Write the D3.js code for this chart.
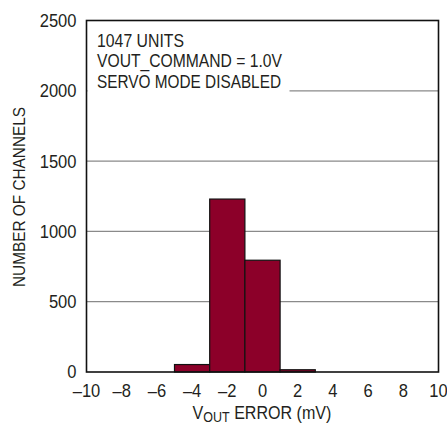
<!DOCTYPE html>
<html>
<head>
<meta charset="utf-8">
<script src="https://cdn.jsdelivr.net/npm/d3@7"></script>
<style>
  body { margin: 0; background: #fff; }
  text { font-family: "Liberation Sans Narrow", "Arial Narrow", "Liberation Sans", sans-serif; fill: #231f20; }
</style>
</head>
<body>
<div id="container"></div>
<script>
// histogram bins (mV) and counts
let binStarts = [-5, -3, -1, 1];
let binWidth = 2;
let counts = [53, 1230, 795, 16];
let xTicks = [-10, -8, -6, -4, -2, 0, 2, 4, 6, 8, 10];
let yTicks = [0, 500, 1000, 1500, 2000, 2500];
let notes = ["1047 UNITS", "VOUT_COMMAND = 1.0V", "SERVO MODE DISABLED"];
let noteWidths = [87, 185, 184];

let w = 447;
let h = 425;
let plotL = 86.5, plotR = 438.5, plotT = 20.5, plotB = 372;

let viz = d3.select("#container").append("svg")
    .attr("width", w)
    .attr("height", h)
    .style("background-color", "white");

let x = d3.scaleLinear().domain([-10, 10]).range([plotL, plotR]);
let y = d3.scaleLinear().domain([0, 2500]).range([plotB, plotT]);

// squeeze text horizontally (no condensed font installed)
function squeeze(sel, k) {
  sel.attr("transform", function() {
    let t = d3.select(this);
    let tx = +t.attr("x"), ty = +t.attr("y");
    return "translate(" + tx + "," + ty + ") scale(" + k + ",1) translate(" + (-tx) + "," + (-ty) + ")";
  });
}

// gridlines
viz.selectAll(".grid").data(yTicks.filter(d => d > 0 && d < 2500)).enter()
  .append("line")
    .attr("x1", plotL).attr("x2", plotR)
    .attr("y1", d => y(d)).attr("y2", d => y(d))
    .attr("stroke", "#8a8a8a")
    .attr("stroke-width", 1.2);

// white box behind the notes
viz.append("rect")
  .attr("x", plotL + 1).attr("y", plotT + 1)
  .attr("width", 202).attr("height", 78)
  .attr("fill", "white");

// bars
let bins = binStarts.map((s, i) => ({x0: s, x1: s + binWidth, n: counts[i]}));
viz.selectAll(".bar").data(bins).enter()
  .append("rect")
    .attr("x", d => x(d.x0))
    .attr("width", d => x(d.x1) - x(d.x0))
    .attr("y", d => y(d.n))
    .attr("height", d => y(0) - y(d.n))
    .attr("fill", "#8c0029")
    .attr("stroke", "#111")
    .attr("stroke-width", 1.2);

// frame
viz.append("rect")
  .attr("x", plotL).attr("y", plotT)
  .attr("width", plotR - plotL).attr("height", plotB - plotT)
  .attr("fill", "none")
  .attr("stroke", "#111")
  .attr("stroke-width", 1.6);

// y tick labels
viz.selectAll(".ylab").data(yTicks).enter()
  .append("text")
    .attr("x", plotL - 10)
    .attr("y", d => y(d) + 6.5)
    .attr("text-anchor", "end")
    .attr("font-size", 18)
    .text(d => d)
    .call(squeeze, 0.92);

// x tick labels
viz.selectAll(".xlab").data(xTicks).enter()
  .append("text")
    .attr("x", d => x(d))
    .attr("y", 397)
    .attr("text-anchor", "middle")
    .attr("font-size", 18)
    .text(d => d < 0 ? "\u2013" + Math.abs(d) : d)
    .call(squeeze, 0.92);

// notes
viz.selectAll(".note").data(notes).enter()
  .append("text")
    .attr("x", 97)
    .attr("y", (d, i) => 46.5 + i * 20.5)
    .attr("font-size", 17.5)
    .attr("textLength", (d, i) => noteWidths[i])
    .attr("lengthAdjust", "spacingAndGlyphs")
    .text(d => d);

// axis titles
let xt = viz.append("text")
  .attr("x", 262).attr("y", 419)
  .attr("text-anchor", "middle")
  .attr("font-size", 18);
xt.append("tspan").text("V");
xt.append("tspan").attr("dy", 3).attr("font-size", 14).text("OUT");
xt.append("tspan").attr("dy", -3).text(" ERROR (mV)");
squeeze(xt, 139 / xt.node().getComputedTextLength());

viz.append("text")
  .attr("transform", "translate(25,197) rotate(-90)")
  .attr("text-anchor", "middle")
  .attr("font-size", 16)
  .attr("textLength", 180)
  .attr("lengthAdjust", "spacingAndGlyphs")
  .text("NUMBER OF CHANNELS");
</script>
</body>
</html>
